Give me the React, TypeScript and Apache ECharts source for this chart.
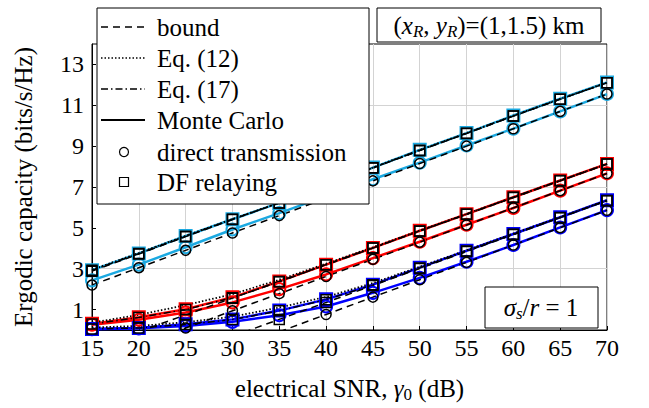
import React, { useEffect, useRef } from 'react';
import * as echarts from 'echarts';

// electrical SNR (dB)
const snr = [15, 20, 25, 30, 35, 40, 45, 50, 55, 60, 65, 70];
const yTickLabels = [1, 3, 5, 7, 9, 11, 13];

// group 1 (cyan)
const cyanDfMC = [2.93, 3.75, 4.6, 5.42, 6.22, 7.08, 7.95, 8.82, 9.64, 10.5, 11.32, 12.12];
const cyanDfEq17 = [2.92, 3.74, 4.59, 5.42, 6.22, 7.08, 7.94, 8.8, 9.63, 10.48, 11.3, 12.1];
const cyanEq12 = [2.95, 3.77, 4.61, 5.43, 6.23, 7.09, 7.95, 8.81, 9.64, 10.49, 11.31, 12.11];
const cyanDfBound = [2.88, 3.72, 4.57, 5.41, 6.22, 7.08, 7.93, 8.78, 9.62, 10.47, 11.3, 12.1];
const cyanDirMC = [2.43, 3.2, 4.05, 4.92, 5.72, 6.55, 7.38, 8.19, 9.03, 9.86, 10.7, 11.55];
const cyanDirBound = [2.2, 3.05, 3.9, 4.75, 5.6, 6.45, 7.3, 8.15, 9.0, 9.85, 10.7, 11.55];

// group 2 (red)
const redDfMC = [0.3, 0.62, 1.02, 1.6, 2.38, 3.2, 4.02, 4.86, 5.67, 6.5, 7.32, 8.13];
const redDfEq17 = [0.29, 0.61, 1.0, 1.58, 2.36, 3.19, 4.01, 4.85, 5.67, 6.5, 7.32, 8.12];
const redEq12 = [0.36, 0.74, 1.22, 1.75, 2.46, 3.25, 4.05, 4.87, 5.68, 6.5, 7.32, 8.13];
const redDfBound = [null, -0.08, 0.74, 1.56, 2.38, 3.2, 4.02, 4.84, 5.66, 6.48, 7.3, 8.12];
const redDirMC = [0.26, 0.5, 0.86, 1.35, 2.0, 2.72, 3.52, 4.32, 5.15, 5.97, 6.82, 7.67];
const redDirBound = [null, -0.74, 0.1, 0.94, 1.78, 2.62, 3.46, 4.3, 5.14, 5.98, 6.82, 7.66];

// group 3 (blue)
const blueDfMC = [0.05, 0.1, 0.28, 0.52, 0.95, 1.5, 2.22, 3.05, 3.88, 4.7, 5.52, 6.35];
const blueDfEq17 = [0.05, 0.1, 0.27, 0.51, 0.94, 1.48, 2.21, 3.04, 3.87, 4.69, 5.51, 6.34];
const blueEq12 = [0.12, 0.2, 0.38, 0.65, 1.1, 1.62, 2.3, 3.1, 3.9, 4.72, 5.53, 6.35];
const blueDfBound = [null, null, null, -0.31, 0.52, 1.35, 2.18, 3.01, 3.84, 4.67, 5.5, 6.33];
const blueDirMC = [0.04, 0.08, 0.2, 0.4, 0.72, 1.15, 1.82, 2.55, 3.34, 4.16, 5.02, 5.87];
const blueDirBound = [null, null, null, null, -0.09, 0.76, 1.61, 2.46, 3.31, 4.16, 5.01, 5.86];

const CYAN = '#1ba9e1';
const RED = '#ff0000';
const BLUE = '#0000ff';
const BLACK = '#000000';
const FONT = 'Liberation Serif, Times New Roman, serif';

const DASHED = [7, 5];
const DOTTED = [1.5, 2];
const DASHDOT = [7, 3, 1.5, 3];

function zip(vals: (number | null)[]) {
  return snr.map((x, i) => [x, vals[i]]);
}

function mk(
  name: string,
  vals: (number | null)[],
  color: string,
  width: number,
  dash: number[] | null,
  symbol: string,
  symSize: number,
  borderW: number
) {
  return {
    name,
    type: 'line',
    data: zip(vals),
    clip: true,
    symbol,
    symbolSize: symSize,
    showSymbol: symbol !== 'none',
    connectNulls: false,
    lineStyle: { color, width, type: dash ? dash : 'solid' },
    itemStyle: { color: 'rgba(0,0,0,0)', borderColor: color, borderWidth: borderW },
    emphasis: { disabled: true },
  };
}

export default function App() {
  const ref = useRef<HTMLDivElement>(null);
  useEffect(() => {
    if (!ref.current) return;
    const chart = echarts.init(ref.current, null, { renderer: 'svg' });

    const groups = [
      { c: CYAN, dfMC: cyanDfMC, dfEq17: cyanDfEq17, eq12: cyanEq12, dfB: cyanDfBound, dirMC: cyanDirMC, dirB: cyanDirBound },
      { c: RED, dfMC: redDfMC, dfEq17: redDfEq17, eq12: redEq12, dfB: redDfBound, dirMC: redDirMC, dirB: redDirBound },
      { c: BLUE, dfMC: blueDfMC, dfEq17: blueDfEq17, eq12: blueEq12, dfB: blueDfBound, dirMC: blueDirMC, dirB: blueDirBound },
    ];

    const series: any[] = [];
    groups.forEach((g) => {
      series.push(mk('Monte Carlo DF', g.dfMC, g.c, 2.5, null, 'rect', 12, 2));
      series.push(mk('Monte Carlo direct', g.dirMC, g.c, 2.5, null, 'circle', 12, 2));
    });
    groups.forEach((g) => {
      series.push(mk('bound DF', g.dfB, BLACK, 1.5, DASHED, 'rect', 10, 1.5));
      series.push(mk('bound direct', g.dirB, BLACK, 1.5, DASHED, 'circle', 10, 1.5));
      series.push(mk('Eq. (12)', g.eq12, BLACK, 1.8, DOTTED, 'none', 0, 0));
      series.push(mk('Eq. (17)', g.dfEq17, BLACK, 1.5, DASHDOT, 'rect', 10, 1.5));
    });

    const Z = 100;
    const legX = 97, legY = 8, legW = 272, legH = 196;
    const rowY = [27, 58, 89, 120, 152, 182];
    const lx1 = 101, lx2 = 145, tx = 157;
    const legendItems: any[] = [
      { type: 'rect', z: Z, shape: { x: legX, y: legY, width: legW, height: legH }, style: { fill: '#fff', stroke: '#000', lineWidth: 1 } },
      { type: 'line', z: Z + 1, shape: { x1: lx1, y1: rowY[0], x2: lx2, y2: rowY[0] }, style: { stroke: '#000', lineWidth: 1.5, lineDash: DASHED } },
      { type: 'line', z: Z + 1, shape: { x1: lx1, y1: rowY[1], x2: lx2, y2: rowY[1] }, style: { stroke: '#000', lineWidth: 1.5, lineDash: DOTTED } },
      { type: 'line', z: Z + 1, shape: { x1: lx1, y1: rowY[2], x2: lx2, y2: rowY[2] }, style: { stroke: '#000', lineWidth: 1.5, lineDash: DASHDOT } },
      { type: 'line', z: Z + 1, shape: { x1: lx1, y1: rowY[3], x2: lx2, y2: rowY[3] }, style: { stroke: '#000', lineWidth: 1.8 } },
      { type: 'circle', z: Z + 1, shape: { cx: 124, cy: rowY[4], r: 4.5 }, style: { fill: 'none', stroke: '#000', lineWidth: 1.2 } },
      { type: 'rect', z: Z + 1, shape: { x: 119.5, y: rowY[5] - 4.5, width: 9, height: 9 }, style: { fill: 'none', stroke: '#000', lineWidth: 1.2 } },
    ];
    const labels = ['bound', 'Eq. (12)', 'Eq. (17)', 'Monte Carlo', 'direct transmission', 'DF relaying'];
    labels.forEach((t, i) => {
      legendItems.push({
        type: 'text',
        z: Z + 1,
        x: tx,
        y: rowY[i],
        style: { text: t, fontFamily: FONT, fontSize: 25, fill: '#000', verticalAlign: 'middle', align: 'left' },
      });
    });

    const richG = {
      n: { fontFamily: FONT, fontSize: 25, fill: '#000' },
      i: { fontFamily: FONT, fontSize: 25, fontStyle: 'italic', fill: '#000' },
      s: { fontFamily: FONT, fontSize: 17, fontStyle: 'italic', fill: '#000', padding: [12, 0, 0, 0] },
    };
    const richAxis = {
      i: { fontFamily: FONT, fontSize: 25, fontStyle: 'italic', color: '#000' },
      s0: { fontFamily: FONT, fontSize: 17, color: '#000', padding: [12, 0, 0, 0] },
    };

    const annotations: any[] = [
      { type: 'rect', z: Z, shape: { x: 377, y: 8, width: 224, height: 34 }, style: { fill: '#fff', stroke: '#000', lineWidth: 1 } },
      {
        type: 'text',
        z: Z + 1,
        x: 489,
        y: 25,
        style: {
          text: '{n|(}{i|x}{s|R}{n|, }{i|y}{s|R}{n|)=(1,1.5) km}',
          rich: richG,
          fontFamily: FONT,
          fontSize: 25,
          fill: '#000',
          align: 'center',
          verticalAlign: 'middle',
        },
      },
      { type: 'rect', z: Z, shape: { x: 485, y: 287, width: 113, height: 41 }, style: { fill: '#fff', stroke: '#000', lineWidth: 1 } },
      {
        type: 'text',
        z: Z + 1,
        x: 541,
        y: 307,
        style: {
          text: '{i|σ}{s|s}{n|/}{i|r}{n| = 1}',
          rich: richG,
          fontFamily: FONT,
          fontSize: 25,
          fill: '#000',
          align: 'center',
          verticalAlign: 'middle',
        },
      },
    ];

    const option: any = {
      animation: false,
      backgroundColor: '#fff',
      grid: { left: 92, right: 42, top: 44, bottom: 70, show: true, borderColor: '#000', borderWidth: 1, backgroundColor: 'transparent' },
      xAxis: {
        type: 'value',
        min: 15,
        max: 70,
        interval: 5,
        name: 'electrical SNR, {i|γ}{s0|0} (dB)',
        nameLocation: 'middle',
        nameGap: 44,
        nameTextStyle: { fontFamily: FONT, fontSize: 25, color: '#000', rich: richAxis },
        axisLine: { lineStyle: { color: '#000', width: 1 } },
        axisTick: { inside: true, length: 4, lineStyle: { color: '#000' } },
        axisLabel: { fontFamily: FONT, fontSize: 24, color: '#000', margin: 6 },
        splitLine: { show: true, lineStyle: { color: '#d3d3d3', width: 1 } },
      },
      yAxis: {
        type: 'value',
        min: 0,
        max: 14,
        interval: 1,
        name: 'Ergodic capacity (bits/s/Hz)',
        nameLocation: 'middle',
        nameGap: 56,
        nameTextStyle: { fontFamily: FONT, fontSize: 25, color: '#000' },
        axisLine: { lineStyle: { color: '#000', width: 1 } },
        axisTick: { inside: true, length: 4, customValues: yTickLabels, lineStyle: { color: '#000' } },
        axisLabel: {
          fontFamily: FONT,
          fontSize: 24,
          color: '#000',
          margin: 8,
          formatter: (v: number) => (yTickLabels.indexOf(v) >= 0 ? String(v) : ''),
        },
        splitLine: { show: true, lineStyle: { color: ['rgba(0,0,0,0)', '#d3d3d3'], width: 1 } },
      },
      series,
      graphic: { elements: [...legendItems, ...annotations] },
    };
    chart.setOption(option);
    return () => chart.dispose();
  }, []);
  return <div ref={ref} style={{ width: 649, height: 408, position: 'absolute', left: 0, top: 0 }} />;
}
